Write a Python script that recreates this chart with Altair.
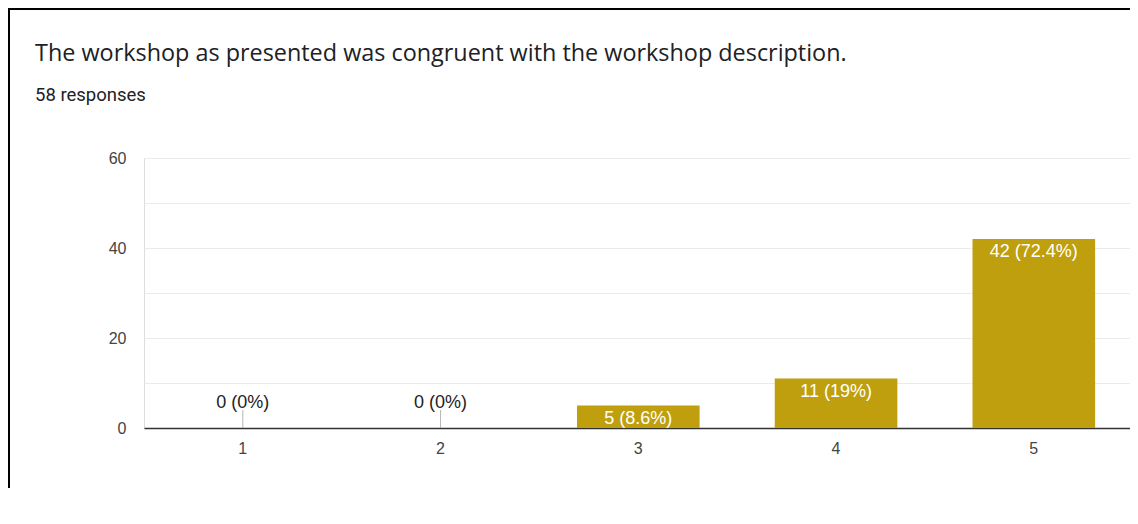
import altair as alt
import pandas as pd

categories = ["1", "2", "3", "4", "5"]
counts = [0, 0, 5, 11, 42]
labels = ["0 (0%)", "0 (0%)", "5 (8.6%)", "11 (19%)", "42 (72.4%)"]
title_text = "The workshop as presented was congruent with the workshop description."
subtitle_text = "58 responses"

df = pd.DataFrame({"cat": categories, "count": counts, "label": labels})
tdf = pd.DataFrame({"title": [title_text], "subtitle": [subtitle_text]})

W, H = 986, 270
PAD = {"left": 136, "top": 150, "right": 0, "bottom": 60}

x = alt.X("cat:N", sort=categories, title=None,
          scale=alt.Scale(paddingInner=0.38, paddingOuter=0.183, align=0.518),
          axis=alt.Axis(labelAngle=0, ticks=False, domainColor="#333333", domainWidth=1.5,
                        labelColor="#444444", labelFontSize=16, labelFont="Liberation Sans",
                        labelPadding=12, grid=False))
y = alt.Y("count:Q", title=None,
          scale=alt.Scale(domain=[0, 60], nice=False),
          axis=alt.Axis(values=[0, 10, 20, 30, 40, 50, 60],
                        labelExpr="datum.value % 20 == 0 ? datum.label : ''",
                        ticks=False, domain=False, gridColor="#ebebeb",
                        labelColor="#444444", labelFontSize=16, labelFont="Liberation Sans",
                        labelPadding=18))

base = alt.Chart(df)

bars = base.mark_bar(color="#bf9f0e").encode(x=x, y=y)

inside = base.transform_filter("datum.count > 0").mark_text(
    color="white", fontSize=18, font="Liberation Sans", baseline="middle", dy=13
).encode(x=x, y=y, text="label:N")

zero_text = base.transform_filter("datum.count == 0").mark_text(
    color="#222222", fontSize=18, font="Liberation Sans", baseline="alphabetic", dy=-20
).encode(x=x, y=y, text="label:N")

stem = base.transform_filter("datum.count == 0").mark_tick(
    orient="vertical", color="#999999", thickness=1, size=18, yOffset=-9
).encode(x=x, y=y)

title = alt.Chart(tdf).mark_text(
    align="left", baseline="alphabetic", font="Open Sans", fontSize=23.4, color="#202124"
).encode(x=alt.value(-109), y=alt.value(-97), text="title:N")

subtitle = alt.Chart(tdf).mark_text(
    align="left", baseline="alphabetic", font="Roboto", fontSize=18.5, color="#202124"
).encode(x=alt.value(-109), y=alt.value(-57), text="subtitle:N")

frame_top = alt.Chart(tdf).mark_rule(color="black", strokeWidth=2).encode(
    x=alt.value(-136), x2=alt.value(W), y=alt.value(-149))
frame_left = alt.Chart(tdf).mark_rule(color="black", strokeWidth=2).encode(
    x=alt.value(-135), y=alt.value(-150), y2=alt.value(H + 60))

chart = alt.layer(bars, inside, zero_text, stem, title, subtitle, frame_top, frame_left).properties(
    width=W, height=H, padding=PAD,
    autosize=alt.AutoSizeParams(type="none"),
).configure_view(stroke="#ebebeb").configure(background="white")

chart.save("out.html", embed_options={"renderer": "svg", "actions": False})
